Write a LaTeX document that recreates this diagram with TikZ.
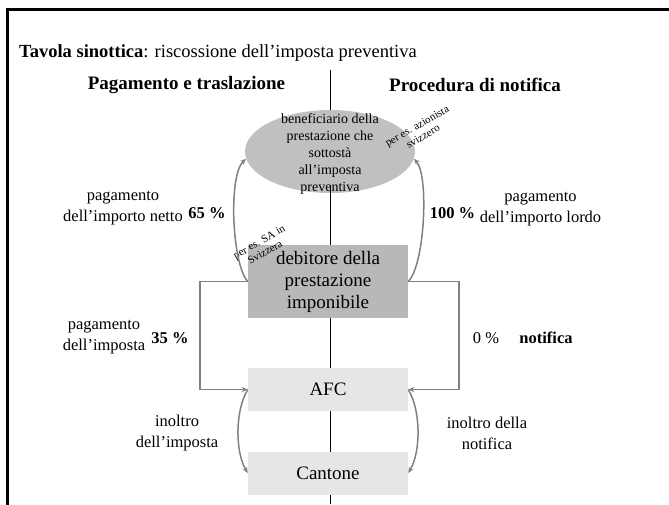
\documentclass[tikz,border=0pt]{standalone}
\usepackage{fontspec}
\setmainfont{Liberation Serif}
\usetikzlibrary{shapes.geometric,arrows.meta}
\pgfdeclarelayer{background}
\pgfsetlayers{background,main}
\definecolor{ellgray}{HTML}{C0C0C0}
\definecolor{boxgray}{HTML}{B8B8B8}
\definecolor{lightbox}{HTML}{E6E6E6}
\definecolor{conngray}{HTML}{808080}
\begin{document}
\begin{tikzpicture}[x=1pt,y=-1pt,
  conn/.style={draw=conngray,line width=1.5pt,-{Stealth[length=6pt,width=5pt]}},
  plainconn/.style={draw=conngray,line width=1.5pt},
  lbl/.style={font=\fontsize{16.5}{21}\selectfont,align=center,inner sep=0pt},
  pct/.style={font=\bfseries\fontsize{16.5}{21}\selectfont,inner sep=0pt},
  head/.style={font=\bfseries\fontsize{19}{23}\selectfont,inner sep=0pt},
  small/.style={font=\fontsize{11}{12}\selectfont,align=center,inner sep=0pt,rotate=30},
  graybox/.style={rectangle,fill=boxgray,minimum width=160,minimum height=73,inner sep=0pt,align=center,font=\fontsize{19}{22}\selectfont},
  lightnode/.style={rectangle,fill=lightbox,minimum width=160,minimum height=43,inner sep=0pt,font=\fontsize{19}{22}\selectfont},
  ellnode/.style={ellipse,fill=ellgray,minimum width=170,minimum height=83,inner sep=0pt}]
\useasboundingbox (0,0) rectangle (669,504);
% frame
\draw[line width=3pt] (7.5,520) -- (7.5,9) -- (690,9);
% title and headers
\node[anchor=west,inner sep=0pt,font=\fontsize{18.5}{22}\selectfont] (title) at (19,53) {\textbf{Tavola sinottica}: riscossione dell’imposta preventiva};
\node[head] (hleft) at (186.5,85) {Pagamento e traslazione};
\node[head] (hright) at (475,85) {Procedura di notifica};
% axis coordinates
\coordinate (ltop) at (330,70);
\coordinate (lbot) at (330,504);
\coordinate (ellcut) at (330,185);
% ellipse
\node[ellnode] (ell) at (330,151.5) {};
\begin{pgfonlayer}{background}
\draw[black,line width=0.8pt] (ltop) -- (lbot);
\end{pgfonlayer}
\draw[black,line width=0.8pt] (ellcut) -- (ell.south);
\node[font=\fontsize{14}{17}\selectfont,align=center,inner sep=0pt] (elltext) at (330,154) {beneficiario della\\prestazione che\\sottostà\\all’imposta\\preventiva};
\node[small] (azion) at (420,131) {per es. azionista\\svizzero};
% boxes
\node[graybox] (deb) at (328,281.5) {debitore della\\prestazione\\imponibile};
\node[small] (sa) at (262,247) {per es. SA in\\Svizzera};
\node[lightnode] (afc) at (328,389.5) {AFC};
\node[lightnode] (cant) at (328,473) {Cantone};
% connectors
\draw[conn] (deb.west) .. controls (232,265) and (228,175) .. (ell.185);
\draw[conn] (deb.east) .. controls (425,265) and (429,175) .. (ell.355);
\draw[conn] (deb.west) -- ++(-48,0) |- (afc.west);
\draw[conn] (deb.east) -- ++(51,0) |- (afc.east);
\draw[conn] (afc.west) .. controls (235,410) and (235,452) .. (cant.west);
\draw[conn] (afc.east) .. controls (421,410) and (421,452) .. (cant.east);
% labels
\node[lbl] (l1) at (123,208.5) {pagamento\\dell’importo netto};
\node[pct] (p65) at (207,213) {65 \%};
\node[pct] (p100) at (452.5,213) {100 \%};
\node[lbl] (r1) at (540.5,209) {pagamento\\dell’importo lordo};
\node[lbl] (l2) at (104,337.5) {pagamento\\dell’imposta};
\node[pct] (p35) at (170,338) {35 \%};
\node[lbl] (p0) at (486,338) {0 \%};
\node[pct] (notif) at (546,338) {notifica};
\node[lbl] (l3) at (177,433) {inoltro\\dell’imposta};
\node[lbl] (r3) at (487,433) {inoltro della\\notifica};
\end{tikzpicture}
\end{document}
